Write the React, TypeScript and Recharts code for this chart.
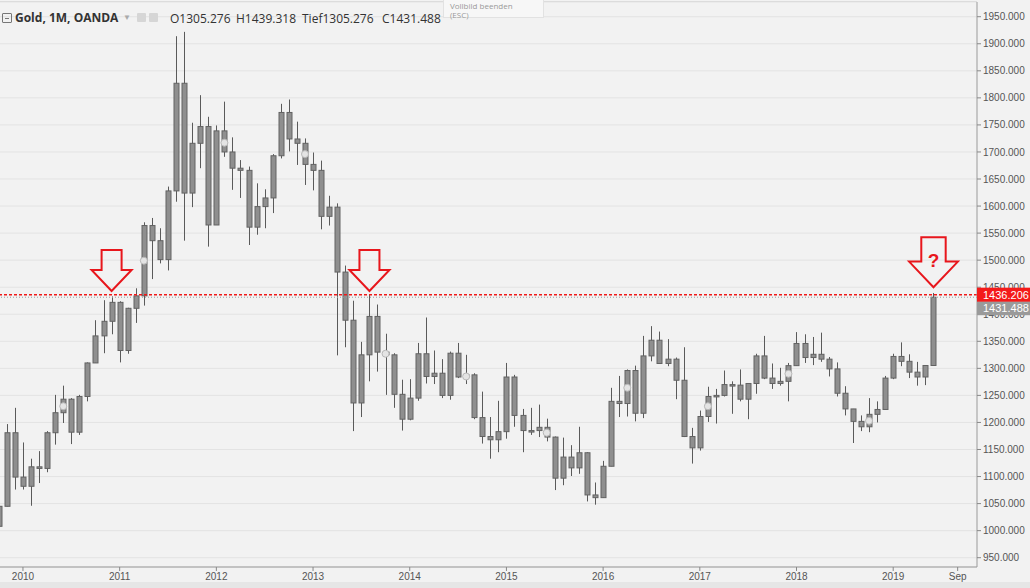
import React from "react";
import {
  ComposedChart,
  Bar,
  Scatter,
  XAxis,
  YAxis,
  CartesianGrid,
  ReferenceLine,
  ReferenceDot,
} from "recharts";

// Gold monthly OHLC, Oct 2009 .. Jun 2019 (index 0 = Oct 2009)
const opens = [
  1008, 1045, 1181,
  1099, 1082, 1118, 1115, 1181, 1218, 1243, 1182, 1248, 1310, 1360, 1387,
  1422, 1333, 1411, 1434, 1564, 1536, 1501, 1628, 1827, 1624, 1716, 1747,
  1565, 1739, 1700, 1670, 1666, 1561, 1599, 1615, 1693, 1773, 1724, 1716,
  1677, 1666, 1581, 1598, 1478, 1389, 1236, 1325, 1396, 1330, 1325, 1252,
  1206, 1245, 1327, 1285, 1291, 1250, 1328, 1284, 1288, 1209, 1174, 1168,
  1183, 1284, 1213, 1185, 1185, 1191, 1173, 1097, 1136, 1116, 1144, 1066,
  1061, 1119, 1239, 1235, 1296, 1217, 1323, 1352, 1309, 1317, 1278, 1174,
  1153, 1211, 1248, 1250, 1270, 1269, 1243, 1272, 1323, 1282, 1272, 1276,
  1305, 1346, 1320, 1326, 1317, 1299, 1254, 1225, 1202, 1192, 1215, 1224,
  1282, 1322, 1313, 1293, 1284, 1305.276,
];
const highs = [
  1070, 1197, 1227,
  1163, 1133, 1147, 1184, 1251, 1268, 1245, 1251, 1311, 1389, 1426, 1433,
  1424, 1412, 1448, 1570, 1578, 1559, 1636, 1914, 1922, 1754, 1805, 1765,
  1749, 1793, 1727, 1685, 1673, 1642, 1631, 1696, 1789, 1797, 1756, 1725,
  1699, 1684, 1619, 1605, 1490, 1425, 1349, 1436, 1418, 1364, 1328, 1279,
  1280, 1347, 1394, 1333, 1317, 1331, 1347, 1325, 1291, 1257, 1210, 1240,
  1310, 1288, 1225, 1227, 1233, 1207, 1174, 1172, 1158, 1192, 1145, 1089,
  1129, 1264, 1286, 1298, 1305, 1360, 1378, 1368, 1354, 1320, 1339, 1190,
  1222, 1266, 1262, 1296, 1276, 1298, 1272, 1327, 1360, 1309, 1301, 1310,
  1367, 1363, 1358, 1366, 1321, 1311, 1267, 1225, 1213, 1245, 1239, 1286,
  1327, 1348, 1326, 1312, 1306, 1439.318,
];
const lows = [
  1003, 1045, 1076,
  1076, 1046, 1088, 1108, 1159, 1199, 1160, 1177, 1239, 1310, 1328, 1363,
  1311, 1327, 1384, 1416, 1465, 1494, 1481, 1608, 1536, 1598, 1670, 1525,
  1565, 1691, 1630, 1615, 1528, 1547, 1559, 1587, 1688, 1701, 1676, 1639,
  1629, 1557, 1564, 1324, 1339, 1184, 1210, 1276, 1294, 1251, 1227, 1185,
  1204, 1240, 1272, 1271, 1245, 1242, 1282, 1271, 1206, 1161, 1133, 1145,
  1170, 1192, 1145, 1177, 1173, 1165, 1075, 1084, 1101, 1105, 1054, 1048,
  1061, 1119, 1210, 1211, 1202, 1208, 1313, 1309, 1304, 1243, 1173, 1124,
  1148, 1201, 1198, 1248, 1216, 1239, 1206, 1253, 1280, 1262, 1268, 1239,
  1305, 1310, 1306, 1312, 1285, 1248, 1213, 1162, 1184, 1182, 1200, 1224,
  1280, 1304, 1282, 1268, 1269, 1305.276,
];
const closes = [
  1045, 1181, 1099,
  1082, 1118, 1115, 1181, 1218, 1243, 1182, 1248, 1310, 1360, 1387, 1422,
  1333, 1411, 1434, 1564, 1536, 1501, 1628, 1827, 1624, 1716, 1747, 1565,
  1739, 1700, 1670, 1666, 1561, 1599, 1615, 1693, 1773, 1724, 1716, 1677,
  1666, 1581, 1598, 1478, 1389, 1236, 1325, 1396, 1330, 1325, 1252, 1206,
  1245, 1327, 1285, 1291, 1250, 1328, 1284, 1288, 1209, 1174, 1168, 1183,
  1284, 1213, 1185, 1185, 1191, 1173, 1097, 1136, 1116, 1144, 1066, 1061,
  1119, 1239, 1235, 1296, 1217, 1323, 1352, 1309, 1317, 1278, 1174, 1153,
  1211, 1248, 1250, 1270, 1269, 1243, 1272, 1323, 1282, 1272, 1276, 1305,
  1346, 1320, 1326, 1317, 1299, 1254, 1225, 1202, 1192, 1215, 1224, 1282,
  1322, 1313, 1293, 1284, 1305.276, 1431.488,
];

// small circle markers on some candles
const markIdx = [8, 18, 28, 38, 48, 58, 68, 78, 88, 98, 108];
const markVal = [1230, 1499, 1717, 1696, 1327, 1285, 1181, 1264, 1230, 1290, 1203];

// red arrows (month index, tip value, text)
const arrowIdx = [14, 46, 116];
const arrowTip = [1443, 1443, 1450];
const arrowText = ["", "", "?"];

const xTickIdx = [3, 15, 27, 39, 51, 63, 75, 87, 99, 111, 119];
const xTickLabels = ["2010", "2011", "2012", "2013", "2014", "2015", "2016", "2017", "2018", "2019", "Sep"];
const priceTicks = [
  950, 1000, 1050, 1100, 1150, 1200, 1250, 1300, 1350, 1400, 1450,
  1500, 1550, 1600, 1650, 1700, 1750, 1800, 1850, 1900, 1950,
];
const lastPrice = 1436.206;
const closePrice = 1431.488;

const rows = opens.map((o, i) => ({
  i,
  o,
  h: highs[i],
  l: lows[i],
  c: closes[i],
  range: [lows[i], highs[i]],
}));
const markRows = markIdx.map((i, k) => ({ i, v: markVal[k] }));

const W = 1030;
const H = 588;
const X_DOMAIN = [0.15, 121.4];
const Y_DOMAIN = [932.8, 1977.2];
const MARGIN = { top: 2, right: 0, bottom: 0, left: 0 };
const axisFont = '"Liberation Sans", Arial, sans-serif';

function Candle(props: any) {
  const { x, y, width, height, payload } = props;
  if (x == null || !payload) return null;
  const top = Math.min(y, y + height);
  const hh = Math.abs(height);
  const span = payload.h - payload.l || 1;
  const py = (v: number) => top + ((payload.h - v) / span) * hh;
  const bTop = py(Math.max(payload.o, payload.c));
  const bBot = py(Math.min(payload.o, payload.c));
  const cx = Math.round(x + width / 2) + 0.5;
  return (
    <g>
      <line x1={cx} x2={cx} y1={top} y2={top + hh} stroke="#5a5a5a" strokeWidth={1} />
      <rect
        x={cx - 2.5}
        y={bTop}
        width={5}
        height={Math.max(bBot - bTop, 1.5)}
        fill="#8f8f8f"
        stroke="#626262"
        strokeWidth={1}
      />
    </g>
  );
}

function Arrow({ cx, cy, big, text }: any) {
  const s = big ? 1.22 : 1;
  const p = [
    [-10, -41], [10, -41], [10, -21], [20, -21], [0, 0], [-20, -21], [-10, -21],
  ]
    .map(([a, b]) => `${cx + a * s},${cy + b * s}`)
    .join(" ");
  return (
    <g>
      <polygon points={p} fill="none" stroke="#e8161c" strokeWidth={2} strokeLinejoin="miter" />
      {text ? (
        <text
          x={cx}
          y={cy - 20}
          textAnchor="middle"
          fill="#e8161c"
          fontSize={19}
          fontWeight="bold"
          fontFamily={axisFont}
        >
          {text}
        </text>
      ) : null}
    </g>
  );
}

function PriceTag({ viewBox, value, color, dy }: any) {
  if (!viewBox) return null;
  const x = viewBox.x + viewBox.width;
  const y = viewBox.y + dy;
  return (
    <g>
      <rect x={x} y={y - 7} width={53} height={14} fill={color} />
      <text x={x + 6} y={y + 4} fill="#fff" fontSize={11} fontFamily={axisFont}>
        {value.toFixed(3)}
      </text>
    </g>
  );
}

export default function App() {
  return (
    <div
      style={{
        position: "absolute",
        left: 0,
        top: 0,
        width: W,
        height: H,
        background: "#f2f2f2",
        overflow: "hidden",
        fontFamily: '"Open Sans", sans-serif',
      }}
    >
      <ComposedChart width={W} height={H} data={rows} margin={MARGIN}>
        <CartesianGrid vertical={false} stroke="#e3e3e3" />
        <XAxis
          dataKey="i"
          type="number"
          domain={X_DOMAIN}
          allowDataOverflow
          ticks={xTickIdx}
          interval={0}
          tickFormatter={(v: number) => xTickLabels[xTickIdx.indexOf(v)]}
          height={21}
          tickSize={4}
          tick={{ fontSize: 10, fill: "#555", fontFamily: '"Liberation Sans Narrow", ' + axisFont }}
          tickLine={{ stroke: "#888" }}
          axisLine={{ stroke: "#9a9a9a" }}
        />
        <YAxis
          orientation="right"
          type="number"
          domain={Y_DOMAIN}
          allowDataOverflow
          ticks={priceTicks}
          interval={0}
          width={53}
          tickSize={4}
          tickFormatter={(v: number) => v.toFixed(3)}
          tick={{ fontSize: 10, fill: "#555", fontFamily: axisFont }}
          tickLine={{ stroke: "#888" }}
          axisLine={{ stroke: "#9a9a9a" }}
        />
        <Bar dataKey="range" barSize={6} isAnimationActive={false} shape={<Candle />} />
        <Scatter
          data={markRows}
          dataKey="v"
          isAnimationActive={false}
          shape={(p: any) => <circle cx={p.cx} cy={p.cy} r={3.5} fill="#e4e4e4" stroke="#b8b8b8" />}
        />
        <ReferenceLine y={closePrice} stroke="#9a9a9a" strokeDasharray="1 2" />
        <ReferenceLine y={lastPrice} stroke="#f01818" strokeDasharray="3 2" strokeWidth={1.5} />
        {arrowIdx.map((ix, k) => (
          <ReferenceDot
            key={ix}
            x={ix}
            y={arrowTip[k]}
            shape={(p: any) => <Arrow cx={p.cx} cy={p.cy} big={k === 2} text={arrowText[k]} />}
          />
        ))}
      </ComposedChart>

      {/* price tags drawn above the axis labels, on the same scales */}
      <div style={{ position: "absolute", left: 0, top: 0, pointerEvents: "none" }}>
        <ComposedChart width={W} height={H} data={rows} margin={MARGIN}>
          <XAxis dataKey="i" type="number" domain={X_DOMAIN} allowDataOverflow height={21} tick={false} axisLine={false} tickLine={false} />
          <YAxis orientation="right" type="number" domain={Y_DOMAIN} allowDataOverflow width={53} tick={false} axisLine={false} tickLine={false} />
          <ReferenceLine
            y={closePrice}
            stroke="none"
            label={(p: any) => <PriceTag viewBox={p.viewBox} value={closePrice} color="#9a9a9a" dy={11} />}
          />
          <ReferenceLine
            y={lastPrice}
            stroke="none"
            label={(p: any) => <PriceTag viewBox={p.viewBox} value={lastPrice} color="#f41a1a" dy={0} />}
          />
        </ComposedChart>
      </div>

      {/* top border */}
      <div style={{ position: "absolute", left: 0, top: 1, width: 977, height: 1, background: "#dcdcdc" }} />
      {/* header */}
      <div
        style={{
          position: "absolute",
          left: 2,
          top: 13,
          width: 8,
          height: 8,
          border: "1px solid #777",
          borderRadius: 1,
        }}
      >
        <div style={{ position: "absolute", left: 2, top: 4, width: 4, height: 1, background: "#777" }} />
      </div>
      <div style={{ position: "absolute", left: 15, top: 9, fontSize: 12, fontWeight: 700, color: "#333", whiteSpace: "nowrap" }}>
        Gold, 1M, OANDA
      </div>
      <div style={{ position: "absolute", left: 123, top: 11, fontSize: 8, color: "#aaa" }}>▼</div>
      <div style={{ position: "absolute", left: 137, top: 13, width: 9, height: 9, background: "#d6d6d6", borderRadius: 1 }} />
      <div style={{ position: "absolute", left: 149, top: 13, width: 9, height: 9, background: "#d6d6d6", borderRadius: 1 }} />
      {[
        ["O1305.276", 170],
        ["H1439.318", 236],
        ["Tief1305.276", 302],
        ["C1431.488", 382],
      ].map(([t, x]) => (
        <div
          key={t as string}
          style={{ position: "absolute", left: x as number, top: 10, fontSize: 12, color: "#333", whiteSpace: "nowrap" }}
        >
          {t}
        </div>
      ))}
      <div
        style={{
          position: "absolute",
          left: 443,
          top: -2,
          width: 101,
          height: 20,
          background: "#f7f7f7",
          border: "1px solid #e2e2e2",
          fontSize: 8,
          lineHeight: "9px",
          color: "#9a9a9a",
          padding: "2px 0 0 6px",
          boxSizing: "border-box",
        }}
      >
        <div>Vollbild beenden</div>
        <div>(ESC)</div>
      </div>
      <div style={{ position: "absolute", left: 0, top: 582, width: W, height: 6, background: "#e6e6e6" }} />
    </div>
  );
}
